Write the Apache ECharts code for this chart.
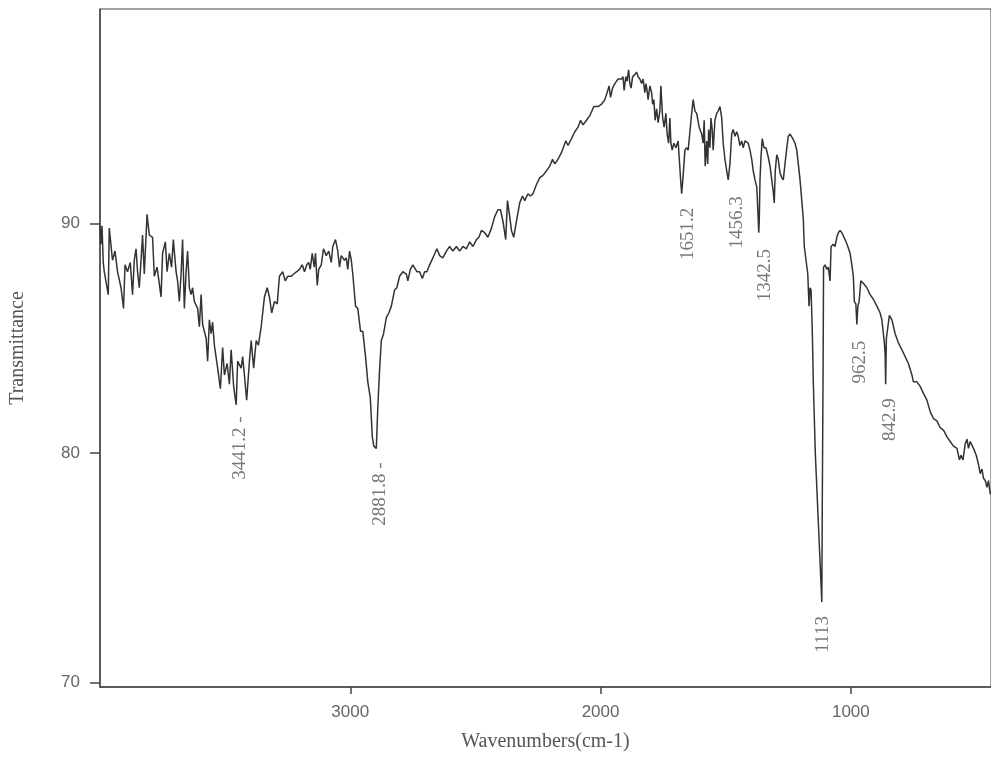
<!DOCTYPE html>
<html>
<head>
<meta charset="utf-8">
<title>IR spectrum</title>
<script src="https://cdn.jsdelivr.net/npm/echarts@6/dist/echarts.min.js"></script>
<style>
  html, body { margin: 0; padding: 0; background: #fff; }
  #chart { width: 991px; height: 759px; }
</style>
</head>
<body>
<div id="chart"></div>
<script>
// spectrum, wavenumber (cm-1) / transmittance
const wavenumbers = [
  4000, 3996, 3992, 3987, 3983, 3967, 3963, 3950, 3940, 3930, 3916, 3906, 3900, 3890, 3879, 3870,
  3863, 3856, 3850, 3843, 3836, 3830, 3823, 3812, 3803, 3790, 3783, 3772, 3756, 3750, 3739, 3732,
  3723, 3714, 3707, 3696, 3690, 3683, 3676, 3670, 3663, 3656, 3650, 3643, 3636, 3630, 3623, 3610,
  3603, 3596, 3590, 3576, 3570, 3563, 3556, 3550, 3543, 3530, 3519, 3510, 3503, 3492, 3483, 3476,
  3466, 3456, 3450, 3436, 3430, 3423, 3414, 3403, 3396, 3386, 3376, 3367, 3356, 3343, 3332, 3323,
  3314, 3303, 3292, 3283, 3270, 3260, 3250, 3236, 3226, 3214, 3203, 3192, 3183, 3174, 3166, 3160,
  3152, 3144, 3139, 3132, 3126, 3116, 3107, 3096, 3086, 3076, 3070, 3059, 3050, 3043, 3036, 3023,
  3016, 3010, 3003, 2996, 2990, 2979, 2970, 2959, 2950, 2939, 2930, 2920, 2912, 2906, 2896, 2890,
  2883, 2876, 2867, 2856, 2846, 2836, 2823, 2814, 2803, 2790, 2776, 2770, 2760, 2750, 2743, 2734,
  2723, 2712, 2703, 2694, 2683, 2670, 2654, 2643, 2630, 2616, 2603, 2590, 2576, 2563, 2550, 2536,
  2523, 2510, 2496, 2486, 2476, 2463, 2450, 2436, 2423, 2410, 2400, 2390, 2379, 2372, 2363, 2356,
  2347, 2336, 2323, 2312, 2303, 2290, 2280, 2270, 2256, 2243, 2230, 2216, 2203, 2192, 2183, 2170,
  2156, 2139, 2130, 2116, 2103, 2090, 2080, 2070, 2056, 2043, 2027, 2010, 1996, 1983, 1974, 1966,
  1960, 1952, 1943, 1930, 1916, 1910, 1906, 1899, 1894, 1888, 1883, 1878, 1872, 1863, 1856, 1850,
  1843, 1836, 1830, 1823, 1819, 1814, 1810, 1803, 1796, 1792, 1787, 1782, 1776, 1770, 1763, 1759,
  1752, 1746, 1739, 1734, 1728, 1723, 1719, 1714, 1707, 1699, 1690, 1686, 1680, 1676, 1670, 1663,
  1656, 1650, 1643, 1636, 1630, 1623, 1616, 1606, 1596, 1590, 1586, 1582, 1576, 1572, 1568, 1563,
  1559, 1554, 1550, 1543, 1536, 1530, 1523, 1516, 1510, 1503, 1496, 1490, 1483, 1476, 1470, 1463,
  1456, 1450, 1443, 1436, 1430, 1423, 1416, 1410, 1403, 1396, 1390, 1383, 1376, 1372, 1368, 1366,
  1363, 1359, 1354, 1347, 1339, 1330, 1323, 1316, 1310, 1306, 1302, 1296, 1290, 1283, 1276, 1270,
  1263, 1256, 1250, 1243, 1232, 1223, 1216, 1210, 1203, 1196, 1190, 1186, 1180, 1172, 1170, 1167,
  1163, 1159, 1154, 1150, 1142, 1130, 1120, 1116, 1114, 1111, 1109, 1103, 1096, 1090, 1083, 1079,
  1070, 1063, 1056, 1050, 1043, 1036, 1023, 1012, 1003, 996, 990, 986, 980, 976, 972, 967,
  960, 950, 936, 923, 910, 896, 883, 876, 870, 866, 863, 861, 858, 852, 846, 836,
  823, 810, 796, 783, 770, 756, 750, 736, 723, 710, 696, 683, 670, 656, 643, 630,
  616, 603, 590, 576, 566, 560, 552, 543, 536, 530, 523, 516, 510, 499, 490, 483,
  476, 470, 463, 456, 450, 443, 440
];
const transmittance = [
  89.9, 89.1, 89.9, 88.3, 87.9, 86.9, 89.8, 88.4, 88.8, 87.9, 87.2, 86.3, 88.2, 87.9, 88.3, 86.9,
  88.4, 88.9, 87.9, 87.2, 88.4, 89.5, 87.8, 90.4, 89.5, 89.4, 87.7, 88.1, 86.8, 88.7, 89.2, 87.9,
  88.7, 88.1, 89.3, 87.9, 87.5, 86.6, 87.8, 89.3, 86.3, 87.9, 88.8, 87.2, 86.9, 87.2, 86.6, 86.3,
  85.5, 86.9, 85.6, 85.0, 84.0, 85.8, 85.2, 85.7, 84.7, 83.7, 82.8, 84.6, 83.4, 83.9, 83.0, 84.5,
  82.9, 82.1, 84.0, 83.7, 84.2, 83.4, 82.3, 84.0, 84.9, 83.7, 84.9, 84.7, 85.5, 86.8, 87.2, 86.8,
  86.1, 86.6, 86.5, 87.7, 87.9, 87.5, 87.7, 87.7, 87.8, 87.9, 88.0, 88.2, 87.9, 88.2, 88.3, 88.0,
  88.7, 88.1, 88.7, 87.3, 88.0, 88.2, 88.9, 88.6, 88.8, 88.3, 89.0, 89.3, 88.8, 88.1, 88.6, 88.4,
  88.5, 88.0, 88.8, 88.4, 87.8, 86.4, 86.3, 85.3, 85.3, 84.2, 83.1, 82.4, 80.7, 80.3, 80.2, 82.0,
  83.6, 84.9, 85.2, 85.9, 86.1, 86.4, 87.1, 87.2, 87.7, 87.9, 87.8, 87.5, 88.0, 88.2, 88.2, 87.9,
  87.9, 87.6, 87.9, 87.9, 88.2, 88.5, 88.9, 88.6, 88.5, 88.8, 89.0, 88.8, 89.0, 88.8, 89.0, 88.9,
  89.2, 89.0, 89.3, 89.4, 89.7, 89.6, 89.4, 89.8, 90.3, 90.6, 90.6, 90.1, 89.3, 91.0, 90.3, 89.7,
  89.4, 90.1, 90.9, 91.2, 91.0, 91.3, 91.2, 91.3, 91.7, 92.0, 92.1, 92.3, 92.5, 92.8, 92.6, 92.8,
  93.1, 93.6, 93.4, 93.7, 94.0, 94.2, 94.5, 94.3, 94.5, 94.7, 95.1, 95.1, 95.2, 95.4, 95.7, 96.0,
  95.5, 95.9, 96.1, 96.3, 96.3, 96.4, 95.8, 96.4, 96.2, 96.7, 96.1, 95.9, 96.4, 96.5, 96.6, 96.4,
  96.3, 96.1, 96.3, 95.7, 96.1, 95.8, 95.4, 96.0, 95.7, 95.2, 95.4, 94.5, 95.0, 94.4, 94.9, 96.0,
  94.6, 94.2, 94.8, 93.9, 93.5, 94.6, 93.5, 93.2, 93.5, 93.3, 93.6, 92.9, 91.9, 91.3, 92.1, 93.2,
  93.3, 93.2, 94.0, 94.8, 95.4, 94.9, 94.8, 94.2, 93.9, 93.5, 94.5, 92.5, 93.6, 92.6, 94.1, 93.3,
  94.6, 94.1, 93.2, 94.5, 94.8, 94.9, 95.1, 94.6, 93.5, 92.8, 92.3, 91.9, 92.6, 93.9, 94.1, 93.8,
  94.0, 93.8, 93.4, 93.6, 93.3, 93.6, 93.6, 93.5, 93.2, 92.8, 92.3, 91.9, 91.6, 90.7, 89.6, 90.1,
  91.9, 92.9, 93.7, 93.3, 93.3, 92.9, 92.5, 91.9, 91.4, 90.9, 92.3, 93.0, 92.8, 92.2, 92.0, 91.9,
  92.6, 93.3, 93.8, 93.9, 93.7, 93.5, 93.2, 92.6, 91.9, 91.0, 90.2, 89.0, 89.0, 87.8, 87.2, 86.4,
  87.2, 87.1, 85.3, 83.1, 80.0, 77.0, 74.5, 73.5, 78.0, 83.5, 88.1, 88.2, 88.0, 88.1, 87.5, 89.0,
  89.1, 89.0, 89.4, 89.6, 89.7, 89.6, 89.3, 89.0, 88.7, 88.2, 87.7, 86.6, 86.5, 85.6, 86.4, 86.6,
  87.5, 87.4, 87.2, 86.9, 86.7, 86.4, 86.1, 85.8, 85.2, 84.8, 84.3, 83.0, 85.0, 85.5, 86.0, 85.8,
  85.2, 84.8, 84.5, 84.2, 83.9, 83.4, 83.1, 83.1, 82.9, 82.6, 82.3, 81.8, 81.5, 81.4, 81.1, 81.0,
  80.7, 80.5, 80.3, 80.2, 79.7, 79.9, 79.7, 80.4, 80.6, 80.2, 80.5, 80.5, 80.2, 79.9, 79.5, 79.1,
  79.3, 78.9, 78.8, 78.5, 78.8, 78.2, 78.3
];

// labelled peaks: wavenumber, depth of the band, printed text
const peakWavenumbers = [3441.2, 2881.8, 1651.2, 1456.3, 1342.5, 1113, 962.5, 842.9];
const peakDepths = [82.2, 80.2, 91.3, 91.8, 89.5, 73.5, 85.5, 83.0];
const peakTexts = ['3441.2 -', '2881.8 -', '1651.2', '1456.3', '1342.5', '1113', '962.5', '842.9'];

const xTicks = [1000, 2000, 3000];
const yTicks = [70, 80, 90];

const spectrum = wavenumbers.map((w, i) => [w, transmittance[i]]);
const peaks = peakWavenumbers.map((w, i) => ({ name: peakTexts[i], value: [w, peakDepths[i]] }));

const chart = echarts.init(document.getElementById('chart'));
chart.setOption({
  animation: false,
  backgroundColor: '#fff',
  grid: {
    left: 100, right: 0, top: 9, bottom: 72,
    outerBoundsMode: 'none',
    containLabel: false,
    show: true, borderColor: '#444', borderWidth: 1
  },
  xAxis: {
    type: 'value',
    inverse: true,
    min: 440,
    max: 4000,
    name: 'Wavenumbers(cm-1)',
    nameLocation: 'middle',
    nameGap: 45,
    nameTextStyle: { fontFamily: 'Liberation Serif', fontSize: 20, color: '#555' },
    axisLine: { show: true, onZero: false, lineStyle: { color: '#444', width: 1.5 } },
    axisTick: { show: true, customValues: xTicks, length: 7, lineStyle: { color: '#444', width: 1.5 } },
    axisLabel: {
      customValues: xTicks, margin: 17, formatter: v => String(v),
      fontFamily: 'Liberation Sans', fontSize: 17, color: '#666'
    },
    splitLine: { show: false }
  },
  yAxis: {
    type: 'value',
    min: 69.8,
    max: 99.35,
    name: 'Transmittance',
    nameLocation: 'middle',
    nameGap: 72,
    nameTextStyle: { fontFamily: 'Liberation Serif', fontSize: 20, color: '#555' },
    axisLine: { show: true, onZero: false, lineStyle: { color: '#444', width: 1.5 } },
    axisTick: { show: true, customValues: yTicks, length: 10, lineStyle: { color: '#444', width: 1.5 } },
    axisLabel: {
      customValues: yTicks, margin: 20, formatter: v => String(v),
      fontFamily: 'Liberation Sans', fontSize: 17, color: '#666'
    },
    splitLine: { show: false }
  },
  series: [
    {
      type: 'line',
      data: spectrum,
      showSymbol: false,
      smooth: false,
      lineStyle: { color: '#333', width: 1.5 },
      silent: true
    },
    {
      type: 'scatter',
      data: peaks,
      symbolSize: 0,
      silent: true,
      label: {
        show: true,
        position: 'bottom',
        distance: 14,
        rotate: 90,
        align: 'right',
        verticalAlign: 'middle',
        formatter: p => p.name,
        fontFamily: 'Liberation Serif',
        fontSize: 19,
        color: '#555'
      }
    }
  ]
});
</script>
</body>
</html>
